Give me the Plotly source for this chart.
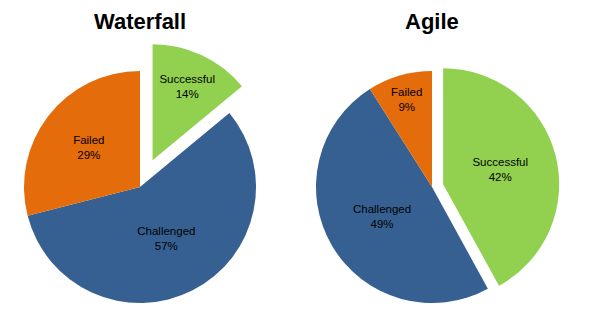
import math
import plotly.graph_objects as go

# ---- data ----
labels = ["Successful", "Challenged", "Failed"]
waterfall_values = [14, 57, 29]
agile_values = [42, 49, 9]
chart_titles = ["Waterfall", "Agile"]
slice_colors = ["#92D050", "#376092", "#E46C0A"]
exploded_index = 0  # "Successful" slice is pulled out

W, H = 590, 330
FONT = "Liberation Sans"


def domain_px(cx, cy, r):
    return dict(x=[(cx - r) / W, (cx + r) / W],
                y=[(H - (cy + r)) / H, (H - (cy - r)) / H])


def exploded_pie(values, cx, cy, r, gap):
    total = sum(values)
    frac = (sum(values[:exploded_index]) + values[exploded_index] / 2) / total
    ang = 2 * math.pi * frac  # clockwise from 12 o'clock
    dx, dy = gap * math.sin(ang), -gap * math.cos(ang)
    traces = []
    for pulled in (False, True):
        cols, tmpl = [], []
        for i, c in enumerate(slice_colors):
            show = (i == exploded_index) == pulled
            cols.append(c if show else "rgba(0,0,0,0)")
            tmpl.append("%{label}<br>%{value}%" if show else "")
        d = domain_px(cx + dx, cy + dy, r) if pulled else domain_px(cx, cy, r)
        traces.append(go.Pie(
            labels=labels, values=values, sort=False, direction="clockwise",
            rotation=0, domain=d,
            marker=dict(colors=cols, line=dict(width=0)),
            texttemplate=tmpl, textposition="inside",
            insidetextorientation="horizontal",
            textfont=dict(family=FONT, size=11.5, color="#000000"),
            hoverinfo="skip", showlegend=False,
        ))
    return traces


fig = go.Figure()
for t in exploded_pie(waterfall_values, 140, 187, 116, 29.5):
    fig.add_trace(t)
for t in exploded_pie(agile_values, 432, 187, 116, 11.5):
    fig.add_trace(t)

for title, x in zip(chart_titles, [140, 432]):
    fig.add_annotation(text=f"<b>{title}</b>", x=x / W, y=1 - 22 / H,
                       xref="paper", yref="paper", showarrow=False,
                       xanchor="center", yanchor="middle",
                       font=dict(family=FONT, size=22, color="#000000"))

fig.update_layout(width=W, height=H, margin=dict(l=0, r=0, t=0, b=0),
                  paper_bgcolor="white", plot_bgcolor="white")
fig.write_html("out.html")
